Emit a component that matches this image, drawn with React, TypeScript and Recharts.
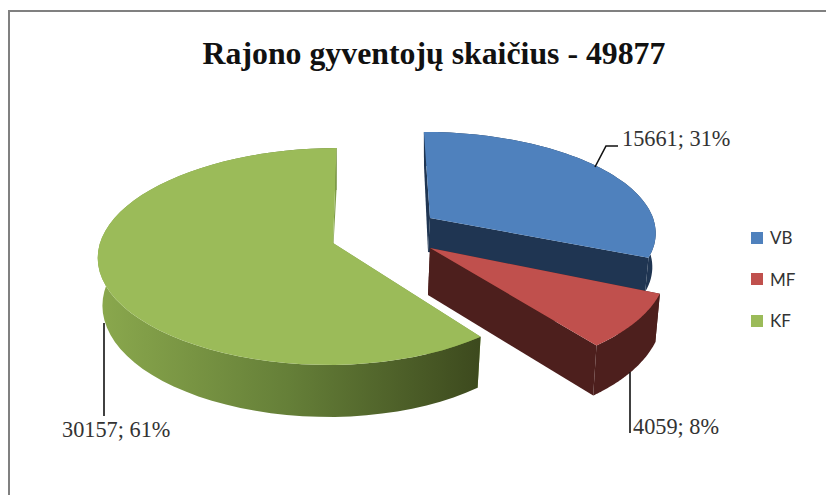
import { PieChart, Pie, Legend } from 'recharts'

const categories = ['VB', 'MF', 'KF']
const values = [15661, 4059, 30157]
const shareLabels = [31, 8, 61]
const topColors = ['#4F81BD', '#C0504D', '#9BBB59']
const chartTitle = 'Rajono gyventojų skaičius - 49877'

const pieData = categories.map((name, i) => ({ name, value: values[i], fill: topColors[i] }))

// projection of each exploded slice: apex, radii, perspective, skew, wall height
const views: Record<string, any> = {
  VB: { ax: 430, ay: 218, R: 223, q: 0, k: 96.7, p: 0.124, s: 6.9, d0: 34, d1: 0, shrink: 0.985, side: '#1F3552', wall: '#1F3552' },
  MF: { ax: 430, ay: 248, R: 233.8, q: 0, k: 111, p: 0.124, s: 9.2, d0: 47, d1: 4, shrink: 0.98, side: '#4D1F1D', wall: '#4D1F1D' },
  KF: { ax: 333, ay: 243, R: 226.8, q: -6.2, k: 106.8, p: 0.124, s: -4, d0: 47, d1: 5, shrink: 0.98, side: 'url(#greenSide)', wall: '#7F9E47' },
}

const leaders: Record<string, { line: string; x: number; y: number }> = {
  VB: { line: '595,167 606,146 618,146', x: 622, y: 146 },
  MF: { line: '630,372 630,433', x: 633, y: 434 },
  KF: { line: '104,323 104,416', x: 62, y: 437 },
}

function topPoint(v: any, deg: number) {
  const t = (deg * Math.PI) / 180
  const a = Math.sin(t)
  const b = -Math.cos(t)
  const w = 1 - v.p * b
  return { x: v.ax + (v.R * a + v.q * a * a + v.s * b) / w, y: v.ay + (v.k * b) / w, b }
}

function lowPoint(v: any, deg: number) {
  const q = topPoint(v, deg)
  return { x: v.ax + (q.x - v.ax) * v.shrink, y: q.y + v.d0 + v.d1 * q.b }
}

const toPath = (pts: { x: number; y: number }[]) =>
  'M' + pts.map((q) => `${q.x.toFixed(1)},${q.y.toFixed(1)}`).join(' L') + ' Z'

function Slice3D(props: any) {
  const name = props.payload?.name ?? props.name
  const v = views[name]
  // recharts angles run counter-clockwise from 3 o'clock
  const from = 90 - props.startAngle
  const to = 90 - props.endAngle
  const steps = 60
  const top: { x: number; y: number }[] = []
  const low: { x: number; y: number }[] = []
  for (let i = 0; i <= steps; i++) {
    const deg = from + ((to - from) * i) / steps
    top.push(topPoint(v, deg))
    low.push(lowPoint(v, deg))
  }
  const apex = { x: v.ax, y: v.ay }
  const apexLow = { x: v.ax - 2, y: v.ay + v.d0 }
  return (
    <g>
      <defs>
        <linearGradient id="greenSide" gradientUnits="userSpaceOnUse" x1="100" y1="0" x2="478" y2="0">
          <stop offset="0" stopColor="#8AA84D" />
          <stop offset="0.5" stopColor="#657F38" />
          <stop offset="1" stopColor="#3D4A1E" />
        </linearGradient>
      </defs>
      <path d={toPath([apex, top[0], low[0], apexLow])} fill={v.wall} />
      <path d={toPath([...top, ...[...low].reverse()])} fill={v.side} />
      <path d={toPath([apex, top[steps], low[steps], apexLow])} fill={v.wall} />
      <path d={toPath([apex, ...top])} fill={props.fill} />
    </g>
  )
}

function SliceLabel(props: any) {
  const i = categories.indexOf(props.name)
  const spot = leaders[props.name]
  return (
    <g>
      <polyline points={spot.line} fill="none" stroke="#111" strokeWidth={1.6} />
      <text x={spot.x} y={spot.y} fontFamily="Liberation Serif" fontSize={22.3} fill="#333">
        {`${values[i]}; ${shareLabels[i]}%`}
      </text>
    </g>
  )
}

function LegendBox({ payload }: any) {
  return (
    <div>
      {(payload ?? []).map((p: any) => (
        <div key={p.value} style={{ display: 'flex', alignItems: 'center', height: 41.5 }}>
          <span style={{ width: 12, height: 12, background: p.color, marginRight: 7 }} />
          <span style={{ fontFamily: 'Lato', fontSize: 17, color: '#333' }}>{p.value}</span>
        </div>
      ))}
    </div>
  )
}

export default function App() {
  return (
    <div style={{ position: 'absolute', left: 0, top: 0, width: 826, height: 495, background: '#fff', overflow: 'hidden' }}>
      <div style={{
        position: 'absolute', left: 8, top: 10, width: 830, height: 500,
        borderTop: '2px solid #808080', borderLeft: '2px solid #808080',
      }} />
      <PieChart width={826} height={495} style={{ position: 'absolute', left: 0, top: 0 }}>
        <text
          x={434} y={64} textAnchor="middle"
          fontFamily="Liberation Serif" fontWeight="bold" fontSize={31.8} fill="#111"
        >
          {chartTitle}
        </text>
        <Pie
          data={pieData}
          dataKey="value"
          nameKey="name"
          cx={430}
          cy={250}
          outerRadius={200}
          startAngle={90}
          endAngle={-270}
          stroke="none"
          shape={Slice3D}
          label={SliceLabel}
          labelLine={false}
          isAnimationActive={false}
        />
        <Legend
          layout="vertical"
          itemSorter={null}
          content={<LegendBox />}
          wrapperStyle={{ position: 'absolute', left: 751, top: 217, width: 70, bottom: 'auto', right: 'auto' }}
        />
      </PieChart>
    </div>
  )
}
